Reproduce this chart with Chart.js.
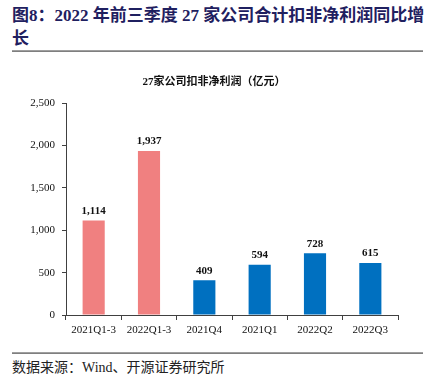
<!DOCTYPE html>
<html>
<head>
<meta charset="utf-8">
<script src="https://cdn.jsdelivr.net/npm/chart.js@4"></script>
<style>
  html, body { margin: 0; padding: 0; background: #fff; }
  body { width: 435px; height: 389px; position: relative; overflow: hidden; }
  .head {
    position: absolute; left: 12px; top: 4px; width: 425px;
    font-family: "Liberation Serif", "Noto Sans CJK SC", serif;
    font-weight: bold; font-size: 17px; line-height: 23px; color: #1f2060;
  }
  .rule { position: absolute; left: 12px; width: 411px; height: 1px; background: #7f7f7f; border-top: 1px solid #9f9f9f; }
  .src {
    position: absolute; left: 12px; top: 356px;
    font-family: "Liberation Serif", "Noto Sans CJK SC", serif;
    font-size: 14px; color: #222;
  }
  #wrap { position: absolute; left: 0; top: 60px; width: 435px; height: 290px; }
</style>
</head>
<body>
<div class="head">图8：2022 年前三季度 27 家公司合计扣非净利润同比增<br>长</div>
<div class="rule" style="top:50px"></div>
<div id="wrap"><canvas id="c"></canvas></div>
<div class="rule" style="top:352px"></div>
<div class="src">数据来源：Wind、开源证券研究所</div>
<script>
const categories = ["2021Q1-3", "2022Q1-3", "2021Q4", "2021Q1", "2022Q2", "2022Q3"];
const profit = [1114, 1937, 409, 594, 728, 615];
const barColors = ["#f08080", "#f08080", "#0070c0", "#0070c0", "#0070c0", "#0070c0"];
const yTicks = [0, 500, 1000, 1500, 2000, 2500];

const serif = "'Liberation Serif', 'Noto Sans CJK SC', serif";

const valueLabels = {
  id: "valueLabels",
  afterDatasetsDraw(chart) {
    const ctx = chart.ctx;
    const meta = chart.getDatasetMeta(0);
    ctx.save();
    ctx.font = "bold 11px " + serif;
    ctx.fillStyle = "#111";
    ctx.textAlign = "center";
    ctx.textBaseline = "bottom";
    meta.data.forEach((bar, i) => {
      ctx.fillText(profit[i].toLocaleString("en-US"), bar.x, bar.y - 4);
    });
    ctx.restore();
  }
};

new Chart(document.getElementById("c"), {
  type: "bar",
  data: {
    labels: categories,
    datasets: [{
      data: profit,
      backgroundColor: barColors,
      categoryPercentage: 1,
      barPercentage: 0.4
    }]
  },
  options: {
    responsive: true,
    maintainAspectRatio: false,
    animation: false,
    layout: { padding: { left: 30, right: 37, top: 0, bottom: 0 } },
    plugins: {
      legend: { display: false },
      tooltip: { enabled: false },
      title: {
        display: true,
        text: "27家公司扣非净利润（亿元）",
        color: "#111",
        font: { family: serif, size: 11, weight: "bold" },
        padding: { top: 16, bottom: 14 }
      }
    },
    scales: {
      x: {
        grid: { display: true, drawOnChartArea: false, drawTicks: true, tickLength: 5, offset: true, color: "#404040" },
        border: { color: "#404040", width: 1 },
        ticks: { color: "#111", font: { family: serif, size: 11 }, padding: 4, maxRotation: 0 },
        afterFit: s => { s.height = 35; }
      },
      y: {
        min: 0, max: 2500,
        afterBuildTicks: s => { s.ticks = yTicks.map(v => ({ value: v })); },
        grid: { display: true, drawOnChartArea: false, drawTicks: true, tickLength: 4, color: "#404040" },
        border: { color: "#404040", width: 1 },
        ticks: {
          color: "#111", font: { family: serif, size: 11 }, padding: 7,
          callback: v => v.toLocaleString("en-US")
        },
        afterFit: s => { s.width = 36; }
      }
    }
  },
  plugins: [valueLabels]
});
</script>
</body>
</html>
